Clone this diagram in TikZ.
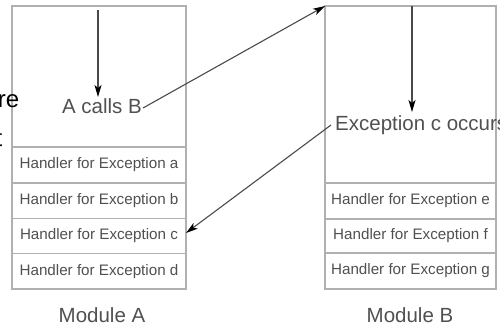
\documentclass[tikz,border=0pt]{standalone}
\usepackage{fontspec}
\setmainfont{Liberation Sans}
\usetikzlibrary{arrows.meta}
\definecolor{boxgray}{HTML}{B0B0B0}
\definecolor{txtgray}{HTML}{505050}
\definecolor{arrgray}{HTML}{4A4A4A}
\begin{document}
\begin{tikzpicture}[x=1pt,y=-1pt,
  cell/.style={draw=boxgray,line width=1.3pt,rectangle,inner sep=0pt,
    minimum width=#1,outer sep=0pt},
  handler/.style={font=\fontsize{15.2}{17}\selectfont,text=txtgray},
  big/.style={font=\fontsize{20.5}{24}\selectfont,text=txtgray},
  edge/.style={font=\fontsize{24}{28}\selectfont,anchor=base east,inner sep=0pt},
  arr/.style={draw=arrgray,line width=1.1pt,
    -{Stealth[length=12pt,width=7pt,inset=3pt,color=black]}}]
\useasboundingbox (0,0) rectangle (500,327);
\clip (0,0) rectangle (500,327);

% Module A
\node[cell=174pt,minimum height=141pt] (Atop) at (99,76.5) {};
\node[cell=174pt,minimum height=36pt] (Aa) at (99,165) {};
\node[cell=174pt,minimum height=35.5pt] (Ab) at (99,200.75) {};
\node[cell=174pt,minimum height=35pt] (Ac) at (99,236) {};
\node[cell=174pt,minimum height=35.5pt] (Ad) at (99,271.25) {};
\node[handler] at (Aa) {Handler for Exception a};
\node[handler] at (Ab) {Handler for Exception b};
\node[handler] (hc) at (Ac) {Handler for Exception c};
\node[handler] at (Ad) {Handler for Exception d};
\node[big,anchor=base] at (102,322) {Module A};

% Module B
\node[cell=171pt,minimum height=177pt] (Btop) at (410.5,94.5) {};
\node[cell=171pt,minimum height=36pt] (Be) at (410.5,201) {};
\node[cell=171pt,minimum height=34pt] (Bf) at (410.5,236) {};
\node[cell=171pt,minimum height=36pt] (Bg) at (410.5,271) {};
\node[handler] at (Be) {Handler for Exception e};
\node[handler] at (Bf) {Handler for Exception f};
\node[handler] at (Bg) {Handler for Exception g};
\node[big,anchor=base] at (410,322) {Module B};

% texts inside the top cells
\node[big,anchor=base,inner sep=1pt] (call) at (102,113) {A calls B};
\node[big,anchor=base west,inner sep=1pt] (occ) at (334,130) {Exception c occurs};

% words running in from the left edge
\node[edge] at (19.5,107) {re};
\node[edge] at (2.5,146) {t};

% control flow
\coordinate (a1) at (98,10);
\coordinate (a2) at (98,97);
\draw[arr] (a1) -- (a2);
\coordinate (b1) at (412,6);
\coordinate (b2) at (412,112);
\draw[arr] (b1) -- (b2);
\coordinate (callend) at (143,108);
\draw[arr] (callend) -- (Btop.north west);
\coordinate (occstart) at (331,125);
\coordinate (hcend) at (186,233);
\draw[arr] (occstart) -- (hcend);
\end{tikzpicture}
\end{document}
